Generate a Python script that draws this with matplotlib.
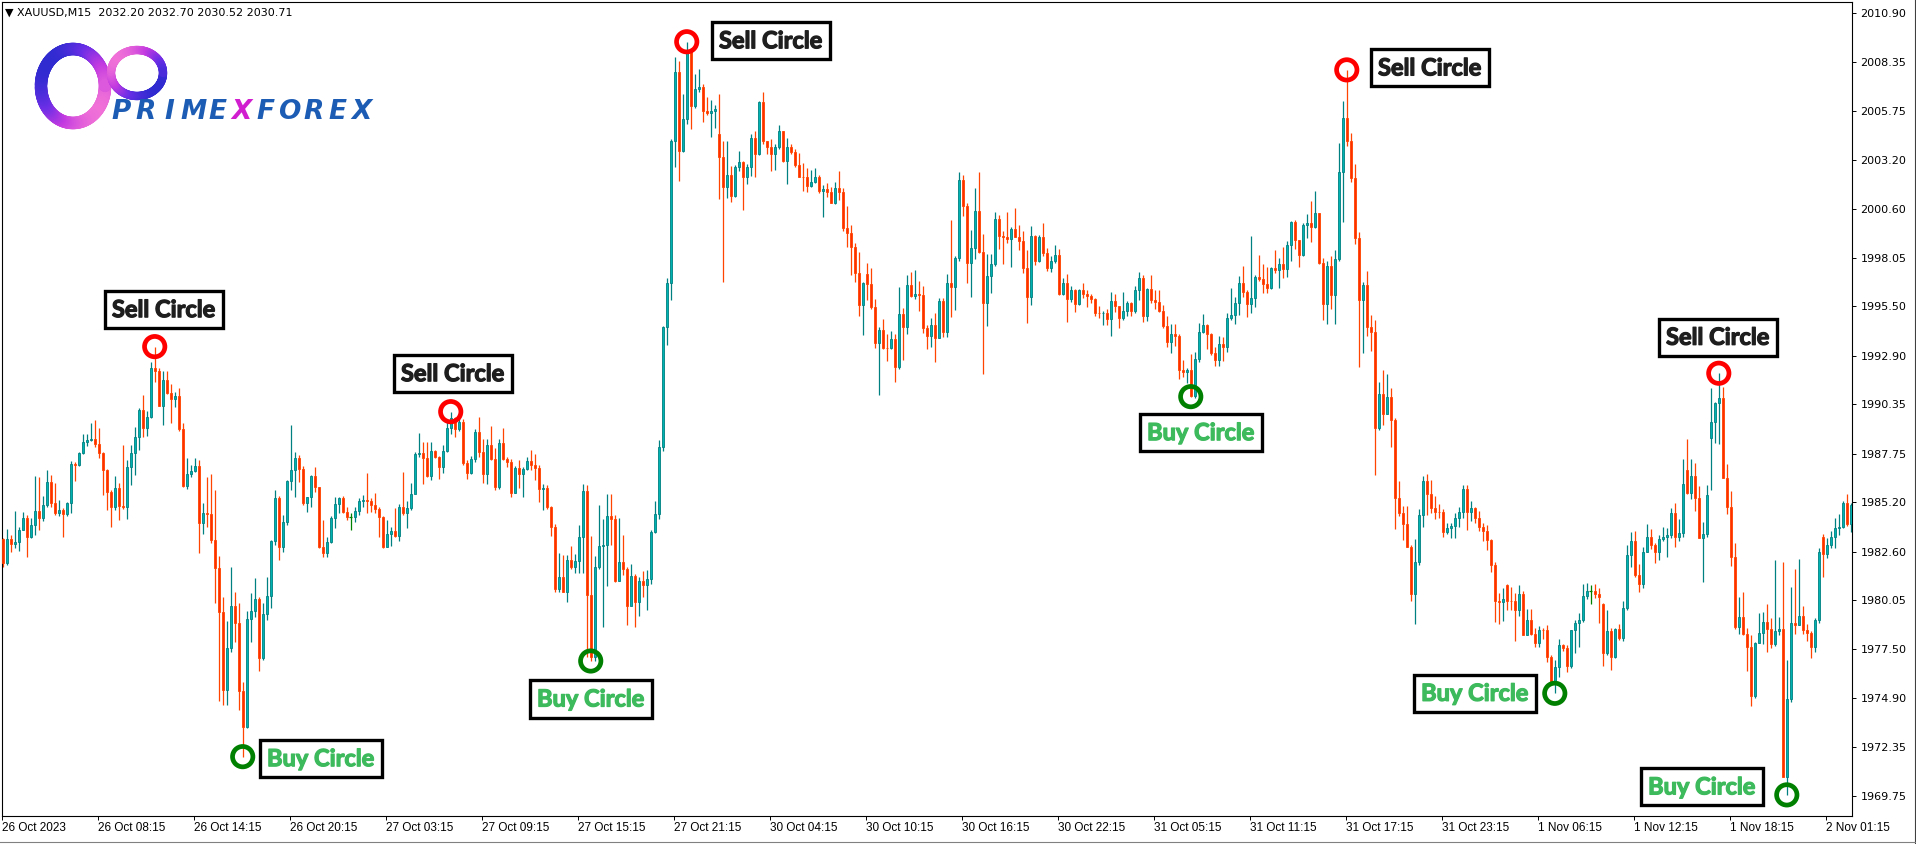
import numpy as np
import matplotlib
matplotlib.use("Agg")
import matplotlib.pyplot as plt
import matplotlib.patheffects as pe
from matplotlib.collections import LineCollection
from matplotlib.colors import LinearSegmentedColormap
from matplotlib.lines import Line2D

W, H = 1916, 844

# XAUUSD M15 candles (open of each bar = previous close unless listed in gap_opens)
first_open = 1983.25
closes = [
    # 0-66
    1982.02, 1983.25, 1983.00, 1983.11, 1983.74, 1984.35, 1983.38, 1984.00, 1984.74, 1984.35,
    1985.05, 1986.24, 1985.17, 1984.65, 1984.77, 1984.56, 1985.14, 1987.21, 1987.17, 1987.77,
    1988.37, 1988.47, 1988.50, 1988.28, 1987.80, 1986.89, 1985.75, 1984.96, 1985.96, 1985.02,
    1984.93, 1987.07, 1987.77, 1988.64, 1990.05, 1989.08, 1989.66, 1992.24, 1992.12, 1990.26,
    1991.62, 1990.92, 1990.61, 1990.78, 1989.03, 1986.05, 1986.68, 1986.86, 1987.10, 1984.09,
    1984.61, 1984.60, 1983.21, 1981.76, 1979.44, 1975.32, 1977.52, 1979.74, 1978.87, 1975.29,
    1973.40, 1979.04, 1979.48, 1980.09, 1976.99, 1979.30, 1980.27,
    # 67-132
    1983.16, 1985.40, 1982.86, 1984.14, 1986.31, 1986.89, 1987.51, 1986.93, 1985.14, 1985.46,
    1986.58, 1985.98, 1982.86, 1982.51, 1983.12, 1984.35, 1985.10, 1985.40, 1984.70, 1984.44,
    1984.44, 1984.74, 1985.26, 1985.32, 1985.26, 1985.05, 1984.82, 1984.40, 1982.86, 1983.53,
    1983.70, 1983.42, 1984.96, 1984.61, 1984.88, 1985.63, 1987.73, 1987.77, 1987.51, 1986.58,
    1987.89, 1987.56, 1987.03, 1987.89, 1989.08, 1989.61, 1989.03, 1989.43, 1987.28, 1986.72,
    1987.45, 1988.91, 1987.86, 1986.67, 1988.21, 1987.47, 1986.02, 1988.33, 1987.45, 1987.30,
    1985.70, 1986.98, 1986.67, 1986.93, 1987.38, 1987.16,
    # 133-198
    1987.00, 1985.88, 1985.93, 1984.97, 1983.88, 1980.62, 1981.26, 1980.50, 1982.17, 1981.78,
    1982.10, 1983.38, 1985.77, 1980.34, 1977.04, 1981.78, 1982.92, 1982.96, 1984.45, 1984.29,
    1981.03, 1982.05, 1981.71, 1979.73, 1981.32, 1979.95, 1981.03, 1980.87, 1981.14, 1983.65,
    1984.56, 1988.10, 1994.43, 1996.71, 2004.21, 2007.82, 2003.67, 2005.35, 2008.96, 2006.04,
    2006.90, 2007.02, 2005.77, 2005.65, 2005.77, 2005.88, 2003.37, 2001.78, 2002.41, 2001.32,
    2002.85, 2003.07, 2002.30, 2002.80, 2004.35, 2003.53, 2006.22, 2004.17, 2003.87, 2003.53,
    2003.90, 2004.74, 2003.14, 2003.90, 2003.60, 2002.92,
    # 199-264
    2002.32, 2002.28, 2001.84, 2002.02, 2002.28, 2001.58, 2001.67, 2001.53, 2000.95, 2001.70,
    2001.53, 1999.60, 1999.34, 1998.60, 1997.27, 1995.57, 1996.71, 1996.67, 1995.45, 1993.59,
    1994.25, 1993.33, 1993.29, 1993.76, 1992.33, 1995.10, 1994.43, 1996.62, 1996.04, 1996.15,
    1996.08, 1994.38, 1993.94, 1994.52, 1993.85, 1995.80, 1994.17, 1996.74, 1996.53, 1998.02,
    2002.14, 2000.77, 1997.80, 1998.55, 2000.51, 1998.37, 1995.66, 1997.09, 1997.72, 2000.09,
    1999.21, 1999.16, 1999.06, 1999.56, 1999.16, 1998.95, 1997.53, 1995.97, 1999.20, 1997.90,
    1999.16, 1998.32, 1997.53, 1997.88, 1998.20, 1996.13,
    # 265-330
    1996.71, 1995.88, 1996.36, 1995.62, 1996.36, 1996.13, 1996.04, 1995.90, 1995.17, 1995.13,
    1995.17, 1994.81, 1995.78, 1995.52, 1994.87, 1995.25, 1995.66, 1995.27, 1996.36, 1996.97,
    1994.99, 1996.39, 1995.83, 1995.74, 1995.27, 1994.46, 1993.64, 1994.02, 1993.94, 1992.15,
    1992.06, 1992.15, 1990.78, 1992.71, 1994.13, 1994.52, 1994.02, 1993.03, 1992.68, 1993.50,
    1993.34, 1994.87, 1995.04, 1995.66, 1996.71, 1996.24, 1995.60, 1995.92, 1997.06, 1996.94,
    1996.66, 1996.48, 1997.50, 1997.41, 1997.72, 1997.44, 1998.72, 1999.92, 1998.99, 1998.20,
    1999.77, 1999.86, 1999.65, 2000.39, 1997.76, 1995.60,
    # 331-396
    1997.60, 1996.12, 1997.97, 2002.55, 2005.38, 2004.18, 2002.26, 1999.10, 1995.83, 1996.60,
    1994.42, 1994.15, 1989.10, 1990.88, 1989.84, 1990.73, 1989.53, 1985.43, 1984.61, 1984.06,
    1982.86, 1980.38, 1982.06, 1984.52, 1986.31, 1985.65, 1984.89, 1984.71, 1984.68, 1983.65,
    1983.84, 1983.95, 1984.39, 1984.67, 1985.91, 1984.67, 1984.89, 1984.39, 1983.91, 1983.69,
    1983.21, 1981.88, 1980.03, 1979.94, 1980.09, 1980.03, 1979.99, 1979.51, 1980.38, 1978.24,
    1979.00, 1978.29, 1977.81, 1978.50, 1978.48, 1977.04, 1975.67, 1976.54, 1977.70, 1977.54,
    1976.61, 1978.46, 1978.85, 1979.00, 1980.25, 1980.53,
    # 397-462
    1980.53, 1980.36, 1980.23, 1977.25, 1978.43, 1977.08, 1978.53, 1978.04, 1979.66, 1982.42,
    1983.16, 1981.37, 1980.88, 1982.60, 1983.39, 1982.95, 1982.60, 1983.25, 1983.39, 1983.48,
    1984.62, 1983.39, 1983.56, 1986.14, 1985.67, 1986.58, 1985.44, 1983.34, 1983.51, 1985.58,
    1989.40, 1990.40, 1990.70, 1986.49, 1984.97, 1982.34, 1978.66, 1979.18, 1978.25, 1977.61,
    1975.03, 1977.78, 1978.31, 1978.88, 1978.53, 1977.73, 1978.43, 1978.53, 1970.77, 1974.84,
    1978.83, 1978.74, 1979.23, 1978.48, 1978.31, 1977.61, 1979.01, 1982.60, 1982.46, 1982.95,
    1983.39, 1983.83, 1983.91, 1985.14, 1984.04, 1985.05,
]
highs = [
    1983.30, 1983.77, 1983.47, 1984.74, 1983.91, 1984.67, 1984.53, 1984.35, 1986.59, 1986.54,
    1985.53, 1986.89, 1986.63, 1986.19, 1985.31, 1984.88, 1985.23, 1987.37, 1987.33, 1987.85,
    1988.79, 1988.79, 1989.35, 1989.52, 1989.08, 1987.85, 1986.93, 1985.84, 1986.58, 1986.19,
    1988.21, 1987.42, 1988.21, 1989.17, 1990.13, 1990.83, 1990.01, 1992.59, 1993.38, 1992.24,
    1992.12, 1992.12, 1991.42, 1991.01, 1991.19, 1989.35, 1987.54, 1987.15, 1987.54, 1987.42,
    1985.14, 1986.54, 1986.68, 1985.84, 1982.37, 1980.23, 1978.95, 1981.77, 1980.49, 1979.88,
    1975.76, 1979.50, 1980.41, 1981.20, 1980.23, 1979.92, 1981.28,
    1983.21, 1985.84, 1985.53, 1984.52, 1986.37, 1989.26, 1987.86, 1987.68, 1987.10, 1985.49,
    1986.63, 1987.03, 1985.98, 1984.26, 1983.35, 1984.47, 1985.49, 1985.49, 1985.53, 1984.96,
    1984.61, 1984.96, 1985.40, 1985.58, 1986.75, 1985.40, 1985.67, 1984.96, 1984.47, 1984.26,
    1983.91, 1984.88, 1985.10, 1986.80, 1985.28, 1986.23, 1987.86, 1988.86, 1988.38, 1988.38,
    1988.38, 1987.94, 1987.63, 1988.21, 1989.52, 1989.96, 1989.66, 1989.70, 1989.56, 1987.42,
    1987.63, 1989.03, 1989.70, 1988.50, 1988.50, 1989.21, 1988.03, 1988.50, 1989.08, 1987.59,
    1987.45, 1987.10, 1987.42, 1987.03, 1987.56, 1987.94,
    1987.75, 1987.18, 1986.16, 1986.09, 1985.02, 1984.06, 1982.51, 1982.40, 1982.40, 1982.92,
    1982.46, 1983.99, 1986.16, 1986.11, 1983.42, 1982.35, 1985.06, 1984.33, 1985.63, 1985.63,
    1984.52, 1984.38, 1983.47, 1981.78, 1981.94, 1981.41, 1981.26, 1981.60, 1981.64, 1983.76,
    1985.25, 1988.48, 1994.48, 1996.99, 2004.28, 2008.62, 2008.39, 2006.68, 2009.41, 2009.07,
    2007.70, 2008.00, 2007.18, 2006.49, 2006.34, 2006.11, 2006.68, 2004.17, 2004.21, 2002.87,
    2002.92, 2003.64, 2003.14, 2002.98, 2004.58, 2004.74, 2006.27, 2006.79, 2004.20, 2004.28,
    2004.05, 2005.03, 2004.74, 2004.35, 2004.05, 2003.76,
    2003.58, 2003.05, 2002.75, 2002.67, 2002.75, 2002.40, 2001.88, 2001.97, 2001.76, 2002.05,
    2002.63, 2001.70, 2000.77, 1999.77, 1998.81, 1998.37, 1996.80, 1997.79, 1997.50, 1995.88,
    1994.39, 1994.82, 1994.04, 1994.22, 1994.04, 1996.53, 1995.39, 1997.15, 1997.32, 1997.41,
    1996.85, 1996.57, 1994.52, 1994.87, 1995.17, 1995.92, 1995.92, 1997.20, 2000.04, 1998.14,
    2002.58, 2002.40, 2000.91, 1999.51, 2001.70, 2002.58, 1999.30, 1998.25, 1998.25, 2000.48,
    2000.30, 1999.48, 2000.48, 1999.69, 2000.69, 1999.77, 1999.48, 1998.46, 1999.72, 1999.25,
    1999.25, 1999.86, 1998.55, 1998.14, 1998.72, 1998.50,
    1996.97, 1997.20, 1996.57, 1996.39, 1996.41, 1996.74, 1996.36, 1996.15, 1995.92, 1995.52,
    1995.27, 1995.34, 1996.27, 1996.15, 1995.48, 1996.27, 1995.78, 1995.74, 1996.57, 1997.32,
    1997.15, 1996.45, 1997.15, 1996.36, 1996.36, 1995.57, 1994.99, 1994.57, 1994.57, 1994.04,
    1992.68, 1992.27, 1992.99, 1993.12, 1994.60, 1995.10, 1994.57, 1994.11, 1993.38, 1993.94,
    1993.90, 1995.13, 1996.45, 1996.01, 1997.09, 1997.62, 1996.36, 1999.20, 1997.15, 1998.20,
    1997.72, 1997.55, 1997.55, 1998.46, 1998.02, 1998.60, 1998.95, 1999.99, 2000.04, 1998.99,
    1999.90, 2000.35, 2001.04, 2001.56, 2000.42, 1998.02,
    1997.90, 1998.12, 1998.47, 2004.07, 2006.32, 2007.93, 2004.62, 2002.98, 1999.39, 1996.77,
    1997.38, 1995.03, 1994.76, 1991.54, 1992.15, 1991.93, 1991.21, 1989.62, 1986.31, 1985.00,
    1985.00, 1982.93, 1983.25, 1984.82, 1986.57, 1986.70, 1986.35, 1985.50, 1985.11, 1984.82,
    1984.13, 1984.13, 1984.61, 1984.93, 1986.09, 1986.09, 1985.26, 1984.93, 1984.74, 1984.13,
    1984.02, 1983.25, 1982.06, 1980.42, 1980.68, 1980.90, 1980.75, 1980.42, 1980.86, 1980.53,
    1979.59, 1979.59, 1978.57, 1978.68, 1978.61, 1978.72, 1977.15, 1976.89, 1978.02, 1977.76,
    1977.70, 1978.50, 1979.00, 1979.37, 1980.90, 1980.97,
    1980.85, 1980.88, 1980.67, 1979.88, 1979.53, 1978.60, 1978.57, 1978.78, 1980.01, 1982.95,
    1983.62, 1983.69, 1981.93, 1982.86, 1984.04, 1983.79, 1983.04, 1983.48, 1983.91, 1983.83,
    1984.88, 1985.14, 1984.32, 1987.47, 1988.52, 1987.47, 1987.24, 1986.05, 1984.18, 1986.11,
    1991.22, 1990.49, 1991.98, 1991.27, 1987.19, 1985.79, 1983.04, 1980.23, 1980.50, 1978.57,
    1978.22, 1977.83, 1979.36, 1979.41, 1979.83, 1979.09, 1982.16, 1979.18, 1982.07, 1976.90,
    1980.72, 1981.69, 1982.21, 1979.76, 1978.78, 1978.43, 1979.13, 1982.81, 1983.51, 1983.30,
    1983.69, 1984.35, 1984.56, 1985.26, 1985.61, 1985.18,
]
lows = [
    1981.81, 1981.90, 1982.60, 1982.77, 1982.65, 1983.74, 1982.34, 1983.30, 1983.47, 1983.74,
    1984.23, 1984.96, 1984.93, 1984.53, 1984.49, 1983.38, 1984.47, 1984.61, 1986.33, 1987.12,
    1987.73, 1988.16, 1988.42, 1988.12, 1987.50, 1985.58, 1984.79, 1983.91, 1984.79, 1984.26,
    1984.84, 1984.32, 1986.10, 1986.63, 1987.94, 1988.64, 1988.68, 1989.61, 1991.54, 1990.26,
    1989.26, 1990.89, 1989.38, 1990.22, 1988.96, 1985.98, 1985.89, 1986.54, 1986.80, 1982.51,
    1983.53, 1983.88, 1983.04, 1979.92, 1974.76, 1974.54, 1974.54, 1977.34, 1977.86, 1974.27,
    1971.82, 1973.31, 1977.86, 1979.18, 1976.34, 1976.90, 1979.00,
    1979.62, 1982.95, 1982.16, 1982.60, 1984.00, 1985.84, 1985.46, 1986.28, 1985.05, 1984.70,
    1984.96, 1985.75, 1982.77, 1982.30, 1982.34, 1983.04, 1983.83, 1984.61, 1984.65, 1984.26,
    1983.74, 1984.17, 1984.52, 1984.96, 1984.65, 1984.70, 1984.61, 1983.39, 1982.77, 1982.86,
    1982.91, 1983.39, 1983.18, 1984.52, 1983.86, 1984.79, 1985.70, 1987.56, 1986.16, 1986.54,
    1986.37, 1987.51, 1986.40, 1986.72, 1987.86, 1988.79, 1988.65, 1988.96, 1987.16, 1986.40,
    1986.67, 1987.33, 1987.56, 1986.23, 1986.16, 1987.42, 1985.84, 1985.88, 1987.42, 1987.03,
    1985.49, 1985.67, 1985.93, 1985.49, 1986.89, 1986.89,
    1986.38, 1985.20, 1984.79, 1984.83, 1983.42, 1980.50, 1980.50, 1980.46, 1979.96, 1981.71,
    1981.48, 1981.48, 1981.48, 1977.04, 1976.85, 1976.85, 1981.71, 1978.63, 1980.80, 1982.96,
    1980.98, 1981.03, 1981.37, 1978.75, 1979.77, 1978.63, 1979.20, 1980.23, 1979.54, 1980.91,
    1983.60, 1984.33, 1987.87, 1993.45, 1995.85, 2002.80, 2002.07, 2003.60, 2005.08, 2004.81,
    2005.95, 2006.79, 2005.20, 2005.58, 2004.40, 2004.85, 2001.16, 1996.76, 2001.20, 2000.98,
    2001.25, 2002.62, 2000.57, 2001.93, 2002.35, 2002.30, 2003.44, 2004.05, 2003.49, 2002.62,
    2002.69, 2003.76, 2003.07, 2001.93, 2003.53, 2002.85,
    2002.28, 2001.58, 2001.53, 2001.76, 2001.97, 2001.44, 2000.18, 2001.26, 2000.91, 2000.88,
    2001.09, 1999.48, 1998.60, 1997.15, 1996.80, 1994.99, 1993.99, 1995.83, 1995.34, 1993.29,
    1990.84, 1993.24, 1992.64, 1993.24, 1991.54, 1992.19, 1992.68, 1994.04, 1996.01, 1995.87,
    1995.27, 1994.08, 1993.24, 1993.38, 1992.59, 1993.82, 1993.87, 1993.90, 1994.92, 1995.31,
    1997.90, 2000.25, 1996.71, 1995.97, 1997.97, 1998.32, 1991.94, 1994.46, 1996.22, 1997.62,
    1998.50, 1997.72, 1998.85, 1997.58, 1999.12, 1998.46, 1997.27, 1994.64, 1995.57, 1997.67,
    1997.85, 1998.15, 1997.36, 1997.32, 1997.79, 1996.10,
    1996.10, 1994.69, 1995.74, 1995.22, 1995.55, 1995.92, 1995.48, 1995.69, 1994.99, 1994.87,
    1994.52, 1994.52, 1993.94, 1995.22, 1994.34, 1994.78, 1994.99, 1994.99, 1995.17, 1995.83,
    1994.69, 1994.75, 1995.66, 1995.34, 1995.22, 1994.34, 1993.38, 1993.06, 1993.41, 1991.66,
    1991.77, 1991.49, 1990.75, 1990.66, 1992.59, 1994.08, 1993.24, 1992.94, 1992.36, 1992.36,
    1992.64, 1993.12, 1994.78, 1994.57, 1995.04, 1995.97, 1994.96, 1995.17, 1995.45, 1996.85,
    1996.18, 1996.18, 1996.39, 1997.27, 1996.45, 1996.97, 1997.02, 1997.90, 1998.50, 1997.55,
    1998.16, 1999.07, 1998.90, 1999.60, 1997.72, 1994.78,
    1994.59, 1995.35, 1994.55, 1997.86, 1999.93, 2003.92, 2002.04, 1998.78, 1992.30, 1993.02,
    1993.94, 1993.17, 1986.63, 1988.97, 1989.25, 1989.84, 1988.09, 1983.80, 1984.45, 1983.21,
    1982.82, 1979.99, 1978.79, 1981.90, 1983.91, 1984.52, 1984.61, 1984.30, 1984.39, 1983.36,
    1983.52, 1983.30, 1983.30, 1983.91, 1984.39, 1983.73, 1984.23, 1984.13, 1983.69, 1983.15,
    1982.71, 1981.55, 1978.90, 1978.79, 1978.94, 1979.51, 1979.55, 1977.91, 1979.22, 1978.24,
    1978.20, 1978.20, 1977.59, 1977.59, 1978.02, 1976.82, 1975.58, 1975.15, 1976.02, 1977.37,
    1976.28, 1976.50, 1977.26, 1977.59, 1978.90, 1980.09,
    1979.83, 1980.15, 1978.83, 1976.61, 1977.17, 1976.38, 1977.03, 1977.95, 1977.90, 1979.53,
    1981.81, 1981.29, 1980.46, 1980.67, 1982.60, 1982.74, 1981.99, 1982.16, 1983.16, 1982.34,
    1983.34, 1982.86, 1983.16, 1983.39, 1985.61, 1985.37, 1984.74, 1983.30, 1981.02, 1983.39,
    1985.84, 1988.30, 1988.24, 1986.46, 1984.56, 1981.86, 1978.53, 1978.25, 1978.22, 1976.33,
    1974.50, 1974.92, 1977.78, 1977.73, 1977.34, 1977.52, 1977.66, 1978.22, 1970.77, 1969.81,
    1974.68, 1978.25, 1978.74, 1978.25, 1977.90, 1976.99, 1977.34, 1978.83, 1981.29, 1982.25,
    1982.81, 1982.81, 1983.48, 1983.83, 1983.97, 1983.62,
]
gap_opens = {179: 2004.58, 216: 1997.18, 376: 1980.86, 400: 1979.83,
             421: 1986.89, 427: 1988.59, 455: 1983.39}
assert len(closes) == len(highs) == len(lows)

y_ticks = [2010.90, 2008.35, 2005.75, 2003.20, 2000.60, 1998.05, 1995.50, 1992.90, 1990.35,
           1987.75, 1985.20, 1982.60, 1980.05, 1977.50, 1974.90, 1972.35, 1969.75]
x_tick_labels = ["26 Oct 2023", "26 Oct 08:15", "26 Oct 14:15", "26 Oct 20:15", "27 Oct 03:15",
                 "27 Oct 09:15", "27 Oct 15:15", "27 Oct 21:15", "30 Oct 04:15", "30 Oct 10:15",
                 "30 Oct 16:15", "30 Oct 22:15", "31 Oct 05:15", "31 Oct 11:15", "31 Oct 17:15",
                 "31 Oct 23:15", "1 Nov 06:15", "1 Nov 12:15", "1 Nov 18:15", "2 Nov 01:15"]
bars_per_label = 24

sell_bars = [38, 112, 171, 336, 429]
buy_bars = [60, 147, 297, 388, 446]
# label box offsets from the circle, in pixels
sell_offsets = [(9, 37), (2, 38), (84, 1), (83, 2), (-1, 36)]
buy_offsets = [(78, -2), (0, -38), (10, -36), (-80, 0), (-85, 8)]

header = "\u25bc XAUUSD,M15  2032.20 2032.70 2030.52 2030.71"

# colours
bull_fill, bull_edge = "#00b2b2", "#008080"
bear_fill, bear_edge = "#ff2d00", "#ff4500"
doji_color = "#008000"

plt.rcParams["font.family"] = "DejaVu Sans"
fig = plt.figure(figsize=(W / 100, H / 100), dpi=100)
ax = fig.add_axes([2 / W, (H - 816) / H, 1850 / W, 814 / H])

c = np.array(closes)
h = np.array(highs)
l = np.array(lows)
o = np.r_[first_open, c[:-1]]
for i, v in gap_opens.items():
    o[i] = v
x = np.arange(len(c))
up = c > o
down = c < o
flat = c == o

wick_cols = np.where(up, bull_edge, np.where(down, bear_edge, doji_color))
ax.vlines(x, l, h, colors=wick_cols, linewidth=0.9, zorder=2)
ax.bar(x[up], (c - o)[up], bottom=o[up], width=0.55, color=bull_fill,
       edgecolor=bull_edge, linewidth=0.6, zorder=3)
ax.bar(x[down], (o - c)[down], bottom=c[down], width=0.55, color=bear_fill,
       edgecolor=bear_edge, linewidth=0.6, zorder=3)
ax.hlines(c[flat], x[flat] - 0.4, x[flat] + 0.4, colors=doji_color, linewidth=0.9, zorder=3)

# signal circles
ax.scatter(sell_bars, h[sell_bars], s=215, facecolors="none", edgecolors="#ff0000",
           linewidths=3.4, zorder=5, clip_on=False)
ax.scatter(buy_bars, l[buy_bars], s=215, facecolors="none", edgecolors="#008000",
           linewidths=3.4, zorder=5, clip_on=False)

box = dict(boxstyle="square,pad=0.3", fc="white", ec="black", lw=2.4)
for b, off in zip(sell_bars, sell_offsets):
    ax.annotate("Sell Circle", xy=(b, h[b]), xytext=off, textcoords="offset pixels",
                ha="center", va="center", fontsize=17, fontweight="bold", family="Lato",
                color="#1e1e1e", bbox=box, zorder=6,
                path_effects=[pe.withStroke(linewidth=0.9, foreground="#1e1e1e")])
for b, off in zip(buy_bars, buy_offsets):
    ax.annotate("Buy Circle", xy=(b, l[b]), xytext=off, textcoords="offset pixels",
                ha="center", va="center", fontsize=17, fontweight="bold", family="Lato",
                color="#3cba5c", bbox=box, zorder=6,
                path_effects=[pe.withStroke(linewidth=0.9, foreground="#3cba5c")])

# axes
ax.set_xlim(-0.175, 462.3)
ax.set_ylim(1968.70, 2011.50)
ax.yaxis.tick_right()
ax.set_yticks(y_ticks)
ax.set_yticklabels([f"{v:.2f}" for v in y_ticks], fontsize=8)
ax.set_xticks([bars_per_label * k - 0.15 for k in range(len(x_tick_labels))])
ax.set_xticklabels(x_tick_labels, ha="left", fontsize=8.5, family="Liberation Sans")
ax.tick_params(axis="x", direction="out", length=3, width=0.7, pad=1.5)
ax.tick_params(axis="y", direction="out", length=3, width=0.7, pad=3)
for sp in ax.spines.values():
    sp.set_linewidth(0.8)
    sp.set_color("black")

fig.text(5 / W, 1 - 13 / H, header, fontsize=8, va="center", ha="left")

# outer frame lines
fig.add_artist(Line2D([1914.5 / W, 1914.5 / W], [0, 1], color="#404040", lw=0.8))
fig.add_artist(Line2D([0, 1], [2.5 / H, 2.5 / H], color="#808080", lw=0.8))

# logo
logo = fig.add_axes([30 / W, 1 - 135 / H, 350 / W, 100 / H])
logo.set_xlim(30, 380)
logo.set_ylim(135, 35)
logo.axis("off")
cmap = LinearSegmentedColormap.from_list("logo", ["#2f2bd0", "#6a2ee6", "#c43be0", "#f070d8"])


def ring(cx, cy, rx, ry, lw, t0):
    t = np.linspace(0, 2 * np.pi, 240)
    pts = np.column_stack([cx + rx * np.cos(t), cy + ry * np.sin(t)])
    segs = np.stack([pts[:-1], pts[1:]], axis=1)
    cols = cmap((np.cos(t[:-1] - t0) + 1) / 2)
    logo.add_collection(LineCollection(segs, colors=cols, linewidths=lw, capstyle="round"))


ring(73, 86, 32, 37, 9, np.pi / 4)
ring(137, 73, 26, 23, 6, 5 * np.pi / 4)
for k, ch in enumerate("PRIMEXFOREX"):
    logo.text(121 + 24.1 * k, 112, ch, ha="center", va="center", fontsize=19,
              fontweight="heavy", style="italic",
              color="#d11fd0" if ch == "X" and k == 5 else "#1d5cb4")

fig.savefig("out.png", dpi=100)
